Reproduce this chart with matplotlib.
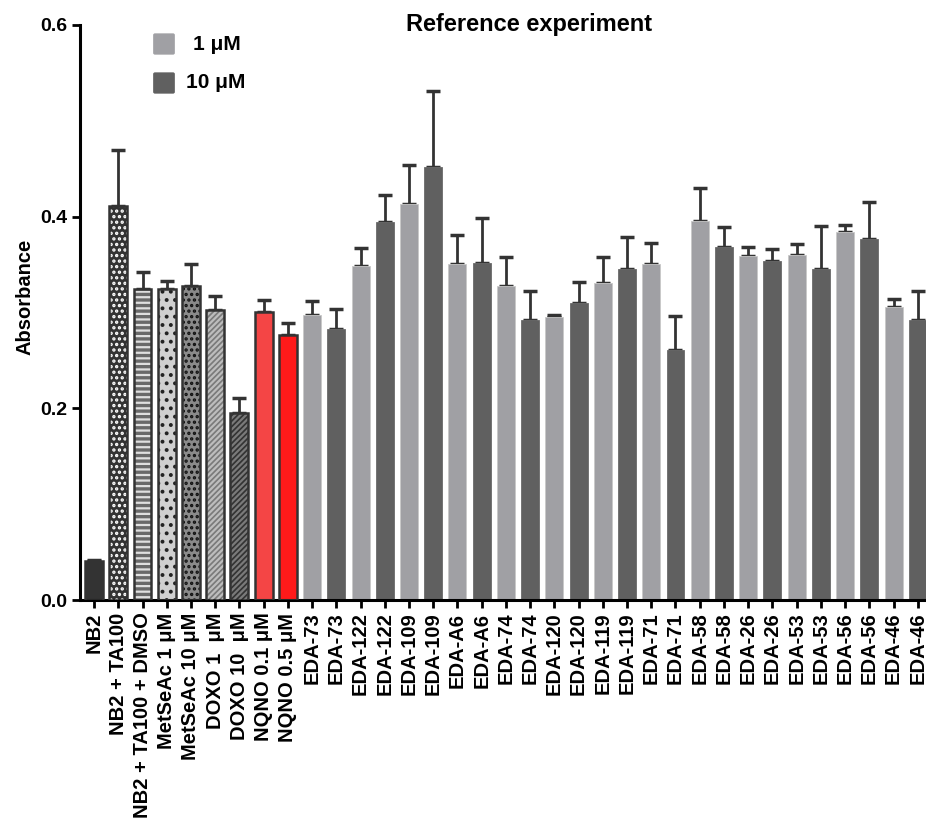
import numpy as np
import matplotlib
matplotlib.use("Agg")
import matplotlib.pyplot as plt
from matplotlib.patches import FancyBboxPatch

plt.rcParams['font.family'] = ['Liberation Sans', 'DejaVu Sans']
plt.rcParams['font.weight'] = 'bold'
plt.rcParams['hatch.linewidth'] = 1.6

# controls
ctrl_labels = ['NB2', 'NB2 + TA100', 'NB2 + TA100 + DMSO', 'MetSeAc 1 μM', 'MetSeAc 10 μM',
               'DOXO 1  μM', 'DOXO 10  μM', 'NQNO 0.1 μM', 'NQNO 0.5 μM']
ctrl_mean = [0.041, 0.411, 0.325, 0.324, 0.328, 0.303, 0.195, 0.301, 0.277]
ctrl_err = [0.001, 0.059, 0.017, 0.009, 0.023, 0.014, 0.016, 0.012, 0.012]
ctrl_face = ['#333333', '#333333', '#6a6a6a', '#d0d0d0', '#8a8a8a', '#7a7a7a', '#333333', '#f44545', '#ff1a1a']
ctrl_hatch = [None, '...', '---', '..', '...', '//////', '//////', None, None]
ctrl_hcol = [None, 'white', '#e0e0e0', '#222222', '#111111', '#bdbdbd', '#7a7a7a', None, None]

# compounds, each at 1 uM and 10 uM
compounds = ['EDA-73', 'EDA-122', 'EDA-109', 'EDA-A6', 'EDA-74', 'EDA-120', 'EDA-119',
             'EDA-71', 'EDA-58', 'EDA-26', 'EDA-53', 'EDA-56', 'EDA-46']
mean_1uM = [0.297, 0.348, 0.413, 0.351, 0.328, 0.295, 0.331, 0.351, 0.395, 0.359, 0.360, 0.384, 0.306]
err_1uM = [0.015, 0.019, 0.041, 0.030, 0.030, 0.002, 0.027, 0.022, 0.035, 0.009, 0.011, 0.007, 0.008]
mean_10uM = [0.283, 0.394, 0.452, 0.352, 0.292, 0.310, 0.345, 0.261, 0.368, 0.354, 0.345, 0.377, 0.292]
err_10uM = [0.021, 0.029, 0.079, 0.047, 0.030, 0.022, 0.034, 0.035, 0.021, 0.012, 0.045, 0.038, 0.030]

light = '#a0a0a4'
dark = '#606060'

fig = plt.figure(figsize=(9.26, 8.24), dpi=100)
ax = fig.add_axes([0.0864, 0.2718, 0.9136, 0.6979])

n_ctrl = len(ctrl_labels)
xc = np.arange(n_ctrl)
w = 0.74

# control bars: fill, hatch overlay, outline
for i in range(n_ctrl):
    ax.bar(xc[i], ctrl_mean[i], w, color=ctrl_face[i], linewidth=0, zorder=2)
    if ctrl_hatch[i]:
        ax.bar(xc[i], ctrl_mean[i], w, facecolor='none', edgecolor=ctrl_hcol[i],
               hatch=ctrl_hatch[i], linewidth=0, zorder=3)
    ax.bar(xc[i], ctrl_mean[i], w, facecolor='none', edgecolor='#333333', linewidth=1.8, zorder=4)
ax.errorbar(xc, ctrl_mean, yerr=[np.zeros(n_ctrl), ctrl_err], fmt='none',
            ecolor='#333333', elinewidth=2, capsize=5, capthick=2.5, zorder=1)

# compound bars
x1 = n_ctrl + 2 * np.arange(len(compounds))
x10 = x1 + 1
ax.bar(x1, mean_1uM, w, color=light, edgecolor='#c8c8c8', linewidth=0.6, zorder=2)
ax.bar(x10, mean_10uM, w, color=dark, edgecolor='#6a6a6a', linewidth=0.6, zorder=2)
ax.errorbar(x1, mean_1uM, yerr=[np.zeros(len(x1)), err_1uM], fmt='none',
            ecolor='#333333', elinewidth=2, capsize=5, capthick=2.5, zorder=1)
ax.errorbar(x10, mean_10uM, yerr=[np.zeros(len(x10)), err_10uM], fmt='none',
            ecolor='#333333', elinewidth=2, capsize=5, capthick=2.5, zorder=1)

all_labels = ctrl_labels + [c for c in compounds for _ in range(2)]
ax.set_xticks(np.arange(len(all_labels)))
ax.set_xticklabels(all_labels, rotation=90, fontsize=14.5, fontweight='bold')
ax.set_xlim(-0.58, 34.34)
ax.set_ylim(0, 0.6)
ax.set_yticks([0.0, 0.2, 0.4, 0.6])
ax.set_yticklabels(['0.0', '0.2', '0.4', '0.6'], fontsize=14, fontweight='bold')
ax.set_ylabel('Absorbance', fontsize=14.5, fontweight='bold')
ax.yaxis.set_label_coords(-0.054, 0.527)

for s in ['top', 'right']:
    ax.spines[s].set_visible(False)
for s in ['left', 'bottom']:
    ax.spines[s].set_linewidth(2.2)
ax.tick_params(axis='both', direction='out', length=6, width=2, pad=3)

fig.text(529 / 926, 1 - 25 / 824, 'Reference experiment', ha='center', va='center',
         fontsize=17, fontweight='bold')

# legend
W, H = 926, 824
for yc, col, lab, tx in [(44, light, '1 μM', 193), (83, dark, '10 μM', 186)]:
    box = FancyBboxPatch(((153 + 2) / W, 1 - (yc + 9) / H), 18 / W, 18 / H,
                         boxstyle='round,pad=0.002', transform=fig.transFigure,
                         facecolor=col, edgecolor='none')
    fig.patches.append(box)
    fig.text(tx / W, 1 - yc / H, lab, ha='left', va='center', fontsize=15, fontweight='bold')

fig.savefig('out.png', dpi=100)
